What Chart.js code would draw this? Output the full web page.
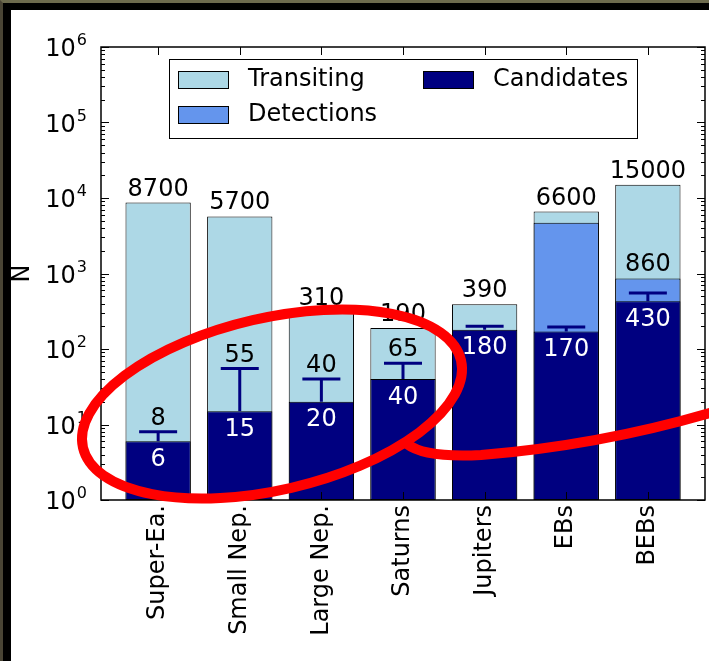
<!DOCTYPE html>
<html>
<head>
<meta charset="utf-8">
<script src="https://cdn.jsdelivr.net/npm/chart.js@4.4.1/dist/chart.umd.min.js"></script>
<style>
  html, body { margin: 0; padding: 0; background: #000; }
  #frame { position: absolute; left: 0; top: 0; width: 709px; height: 661px; background: #000;
           border-top: 3px solid #6d6b4e; border-left: 3px solid #4a4535; box-sizing: border-box; }
  #chart { position: absolute; left: 11px; top: 10px; background: #fff; }
</style>
</head>
<body>
<div id="frame"></div>
<canvas id="chart" width="698" height="651"></canvas>
<script>
const categories = ["Super-Ea.", "Small Nep.", "Large Nep.", "Saturns", "Jupiters", "EBs", "BEBs"];
const transiting = [8700, 5700, 310, 190, 390, 6600, 15000];
const detections = [null, null, null, null, null, 4700, 860];
const candidates = [6, 15, 20, 40, 180, 170, 430];
const candidatesUpper = [8, 55, 40, 65, 200, 195, 550];
const upperLabels = [8, 55, 40, 65, null, null, 860];
const yTicks = [1, 10, 100, 1000, 10000, 100000, 1000000];

const FONT = "'DejaVu Sans', sans-serif";

function toPoints(arr) {
    return arr.map((v, i) => ({ x: i, y: v }));
}

// labels, error bars, frame, inward ticks
const overlay = {
    id: "overlay",
    afterDatasetsDraw(chart) {
        const ctx = chart.ctx;
        const xs = chart.scales.x;
        const ys = chart.scales.y;
        const area = chart.chartArea;
        ctx.save();

        // error bars on candidates
        ctx.strokeStyle = "#000080";
        ctx.lineWidth = 3;
        candidates.forEach((v, i) => {
            const px = xs.getPixelForValue(i);
            const y0 = ys.getPixelForValue(v);
            const y1 = ys.getPixelForValue(candidatesUpper[i]);
            ctx.beginPath();
            ctx.moveTo(px, y0);
            ctx.lineTo(px, y1);
            ctx.moveTo(px - 19, y1);
            ctx.lineTo(px + 19, y1);
            ctx.stroke();
        });

        ctx.font = "24px " + FONT;
        ctx.textAlign = "center";
        ctx.textBaseline = "alphabetic";
        ctx.fillStyle = "#000";
        transiting.forEach((v, i) => {
            ctx.fillText(String(v), xs.getPixelForValue(i), ys.getPixelForValue(v) - 7);
        });
        upperLabels.forEach((v, i) => {
            if (v === null) return;
            ctx.fillText(String(v), xs.getPixelForValue(i), ys.getPixelForValue(v) - 7);
        });
        ctx.fillStyle = "#fff";
        candidates.forEach((v, i) => {
            ctx.fillText(String(v), xs.getPixelForValue(i), ys.getPixelForValue(v) + 24.5);
        });

        // y tick labels as 10 with a raised exponent
        ctx.fillStyle = "#000";
        ctx.textAlign = "right";
        yTicks.forEach((v) => {
            const py = ys.getPixelForValue(v);
            const right = area.left - 14;
            ctx.font = "16px " + FONT;
            const ew = ctx.measureText(String(Math.round(Math.log10(v)))).width;
            ctx.fillText(String(Math.round(Math.log10(v))), right, py - 2);
            ctx.font = "24px " + FONT;
            ctx.fillText("10", right - ew - 1, py + 9);
        });

        // frame
        ctx.strokeStyle = "#000";
        ctx.lineWidth = 1.5;
        ctx.strokeRect(area.left, area.top, area.right - area.left, area.bottom - area.top);

        // ticks, pointing inward
        ctx.lineWidth = 1;
        ctx.beginPath();
        for (let d = 0; d <= 6; d++) {
            const py = Math.round(ys.getPixelForValue(Math.pow(10, d))) + 0.5;
            ctx.moveTo(area.left, py); ctx.lineTo(area.left + 8, py);
            ctx.moveTo(area.right, py); ctx.lineTo(area.right - 8, py);
            if (d === 6) break;
            for (let m = 2; m <= 9; m++) {
                const pm = Math.round(ys.getPixelForValue(m * Math.pow(10, d))) + 0.5;
                ctx.moveTo(area.left, pm); ctx.lineTo(area.left + 4, pm);
                ctx.moveTo(area.right, pm); ctx.lineTo(area.right - 4, pm);
            }
        }
        categories.forEach((c, i) => {
            const px = Math.round(xs.getPixelForValue(i)) + 0.5;
            ctx.moveTo(px, area.bottom); ctx.lineTo(px, area.bottom - 8);
            ctx.moveTo(px, area.top); ctx.lineTo(px, area.top + 8);
        });
        ctx.stroke();
        ctx.restore();
    },
    afterDraw(chart) {
        const ctx = chart.ctx;
        const area = chart.chartArea;
        const ds = chart.data.datasets;
        ctx.save();

        // legend box in the upper part of the axes
        const lx = area.left + 68, ly = area.top + 12;
        ctx.fillStyle = "#fff";
        ctx.fillRect(lx, ly, 468, 79);
        ctx.strokeStyle = "#000";
        ctx.lineWidth = 1;
        ctx.strokeRect(lx + 0.5, ly + 0.5, 468, 79);
        const items = [
            { d: ds[0], x: lx + 9, y: ly + 12 },
            { d: ds[2], x: lx + 254, y: ly + 12 },
            { d: ds[1], x: lx + 9, y: ly + 47 }
        ];
        ctx.font = "24px " + FONT;
        ctx.textAlign = "left";
        ctx.textBaseline = "middle";
        items.forEach(it => {
            ctx.fillStyle = it.d.backgroundColor;
            ctx.fillRect(it.x, it.y, 50, 17);
            ctx.strokeRect(it.x + 0.5, it.y + 0.5, 50, 17);
            ctx.fillStyle = "#000";
            ctx.fillText(it.d.label, it.x + 70, it.y + 9);
        });

        // red hand-drawn annotation over the chart
        ctx.strokeStyle = "#ff0000";
        ctx.lineWidth = 10;
        ctx.lineCap = "round";
        ctx.beginPath();
        ctx.ellipse(261, 394, 194, 86, -13 * Math.PI / 180, 0, 2 * Math.PI);
        ctx.stroke();
        ctx.beginPath();
        ctx.moveTo(396, 434);
        ctx.quadraticCurveTo(414, 448, 470, 445);
        ctx.quadraticCurveTo(590, 435, 702, 402);
        ctx.stroke();
        ctx.restore();
    }
};

const ctx = document.getElementById("chart").getContext("2d");

const myChart = new Chart(ctx, {
    type: "bar",
    data: {
        datasets: [
            {
                label: "Transiting",
                data: toPoints(transiting),
                backgroundColor: "#add8e6",
                borderColor: "#000",
                borderWidth: 1,
                order: 3,
            },
            {
                label: "Detections",
                data: toPoints(detections),
                backgroundColor: "#6495ed",
                borderColor: "#000",
                borderWidth: 1,
                order: 2,
            },
            {
                label: "Candidates",
                data: toPoints(candidates),
                backgroundColor: "#000080",
                borderColor: "#000",
                borderWidth: 1,
                order: 1,
            },
        ],
    },
    options: {
        responsive: false,
        animation: false,
        layout: { padding: { top: 37, right: 4, left: 0, bottom: 0 } },
        datasets: {
            bar: { grouped: false, barPercentage: 0.8, categoryPercentage: 1.0, borderSkipped: false },
        },
        plugins: {
            legend: { display: false },
            tooltip: { enabled: false },
        },
        scales: {
            x: {
                type: "linear",
                min: -0.7,
                max: 6.7,
                offset: false,
                grid: { display: false, drawTicks: false },
                border: { display: false },
                afterBuildTicks: (scale) => {
                    scale.ticks = categories.map((c, i) => ({ value: i }));
                },
                afterFit: (scale) => {
                    scale.height = 161;
                    scale.paddingLeft = 0;
                    scale.paddingRight = 0;
                },
                ticks: {
                    minRotation: 90,
                    maxRotation: 90,
                    padding: 5,
                    color: "#000",
                    font: { family: FONT, size: 24 },
                    callback: (v) => categories[v],
                },
            },
            y: {
                type: "logarithmic",
                min: 1,
                max: 1000000,
                grid: { display: false, drawTicks: false },
                border: { display: false },
                afterBuildTicks: (scale) => {
                    scale.ticks = yTicks.map((v) => ({ value: v }));
                },
                afterFit: (scale) => {
                    scale.width = 90;
                },
                title: {
                    display: true,
                    text: "N",
                    color: "#000",
                    padding: { top: -3, bottom: 0 },
                    font: { family: FONT, size: 24 },
                },
                ticks: {
                    display: false,
                },
            },
        },
    },
    plugins: [overlay],
});
</script>
</body>
</html>
